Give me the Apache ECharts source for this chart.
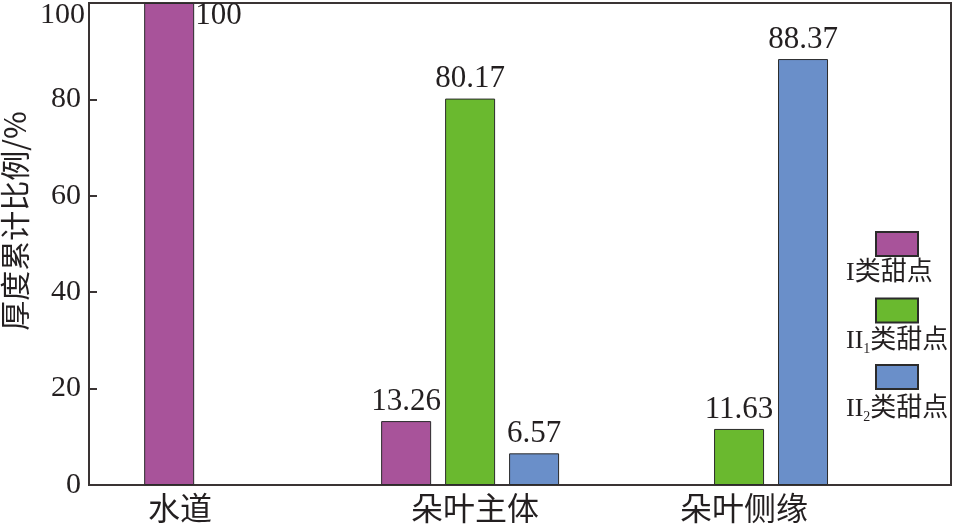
<!DOCTYPE html>
<html>
<head>
<meta charset="utf-8">
<script src="https://cdn.jsdelivr.net/npm/echarts@6/dist/echarts.min.js"></script>
<style>html,body{margin:0;padding:0;background:#fff}#c{width:955px;height:524px}</style>
</head>
<body>
<div id="c"></div>
<script>
// ---- data ----
const categories = ['水道', '朵叶主体', '朵叶侧缘'];
const seriesNames = ['I类甜点', 'II1类甜点', 'II2类甜点'];
const valuesI   = [100, 13.26, null];
const valuesII1 = [null, 80.17, 11.63];
const valuesII2 = [null, 6.57, 88.37];
const yTicks = [0, 20, 40, 60, 80, 100];
const yAxisName = '厚度累计比例/%';

// ---- layout / style ----
const colors = ['#a8539a', '#6ab92f', '#6a8fc9'];
const slot = 0.2126;              // bar slot width in group units
const xMin = 0.7336, xMax = 3.598;
const labelShift = [0.036, 0.016, -0.09];
const serif = "'Liberation Serif','Times New Roman','Noto Sans CJK SC',serif";
const textColor = '#231f20';
const lineColor = '#3a3434';

const allValues = [valuesI, valuesII1, valuesII2];
// grouped bars: non-empty bars of each category centred on the category
function positions() {
  const pos = allValues.map(() => []);
  categories.forEach((c, i) => {
    const present = allValues.map((v, s) => v[i] != null ? s : -1).filter(s => s >= 0);
    present.forEach((s, k) => {
      pos[s][i] = (i + 1) + (k - (present.length - 1) / 2) * slot;
    });
  });
  return pos;
}
const pos = positions();

const series = allValues.map((vals, s) => ({
  name: seriesNames[s],
  type: 'bar',
  barWidth: 50,
  barGap: '-100%',
  itemStyle: { color: colors[s], borderColor: '#2b2b2b', borderWidth: 1 },
  label: {
    show: true, position: 'top', distance: 4,
    fontFamily: serif, fontSize: 31, color: textColor
  },
  data: vals.map((v, i) => {
    if (v == null) return null;
    const item = { value: [pos[s][i], v] };
    if (v >= 100) {
      item.label = { position: [51, -3], align: 'left', verticalAlign: 'top' };
    }
    return item;
  }).filter(d => d)
}));

function legendText(name) {
  return name.replace(/^II(\d)/, 'II{sub|$1}');
}

const chart = echarts.init(document.getElementById('c'));
chart.setOption({
  animation: false,
  grid: {
    left: 89, right: 4, top: 3, bottom: 39,
    outerBoundsMode: 'none', containLabel: false,
    show: true, borderColor: lineColor, borderWidth: 2, backgroundColor: 'transparent'
  },
  xAxis: {
    type: 'value', min: xMin, max: xMax,
    splitLine: { show: false },
    axisLine: { show: true, lineStyle: { color: lineColor, width: 2 } },
    axisTick: { show: false },
    axisLabel: {
      customValues: categories.map((c, i) => i + 1 + labelShift[i]),
      formatter: (v) => {
        let best = 0, d = 1e9;
        categories.forEach((c, i) => {
          const dd = Math.abs(v - (i + 1 + labelShift[i]));
          if (dd < d) { d = dd; best = i; }
        });
        return categories[best];
      },
      fontFamily: "'Noto Sans CJK SC',sans-serif", fontSize: 32, color: textColor, margin: 7
    }
  },
  yAxis: {
    type: 'value', min: 0, max: 100, interval: 20,
    name: yAxisName, nameLocation: 'middle', nameGap: 57,
    nameTextStyle: { fontFamily: "'Noto Sans CJK SC',sans-serif", fontSize: 30, color: textColor, padding: [0, 0, 0, 46] },
    splitLine: { show: false },
    axisLine: { show: true, lineStyle: { color: lineColor, width: 2 } },
    axisTick: { show: true, inside: true, length: 8, lineStyle: { color: lineColor, width: 2 } },
    axisLabel: {
      margin: 8, fontFamily: serif, fontSize: 30, color: textColor,
      formatter: (v) => v === yTicks[yTicks.length - 1] ? '{top|' + v + '}' : String(v),
      rich: { top: { fontFamily: serif, fontSize: 30, color: textColor, padding: [25, -4, 0, 0] } }
    }
  },
  legend: [
    {
      orient: 'vertical', left: 875, top: 231, icon: 'rect', padding: 0,
      itemWidth: 42, itemHeight: 24, itemGap: 40.5,
      data: seriesNames, formatter: () => '',
      textStyle: { fontSize: 10 }
    },
    {
      orient: 'vertical', left: 841, top: 259, icon: 'rect', padding: 0,
      itemWidth: 0, itemHeight: 0, itemGap: 39,
      itemStyle: { color: 'rgba(0,0,0,0)', borderWidth: 0 },
      data: seriesNames, formatter: legendText,
      textStyle: {
        fontFamily: serif, fontSize: 26, color: textColor, lineHeight: 29,
        rich: { sub: { fontFamily: serif, fontSize: 14, color: textColor, verticalAlign: 'bottom', lineHeight: 29, padding: [12, 0, 0, 0] } }
      }
    }
  ],
  series: series
});
</script>
</body>
</html>
